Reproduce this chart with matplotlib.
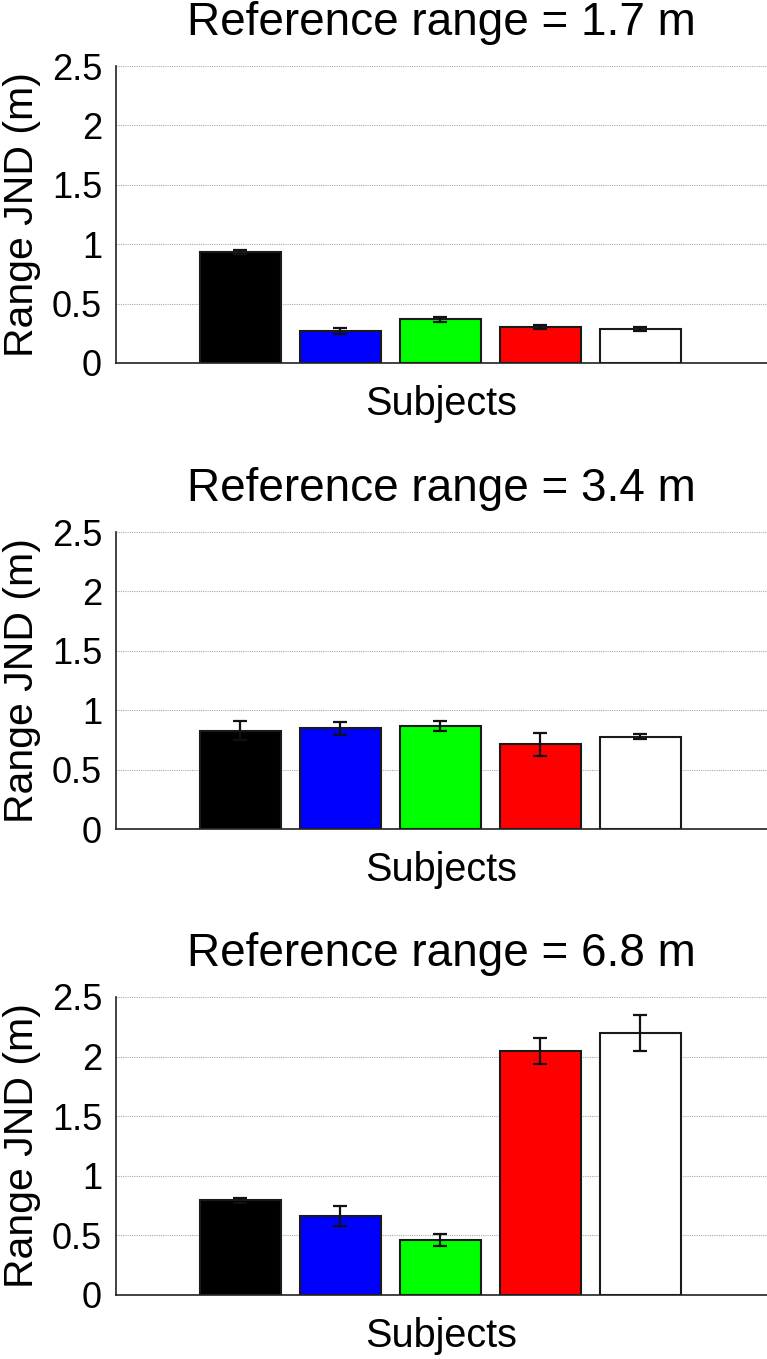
import matplotlib
matplotlib.use("Agg")
import matplotlib.pyplot as plt
import numpy as np

plt.rcParams['font.family'] = ['Liberation Sans', 'DejaVu Sans']

subjects = [1, 2, 3, 4, 5]
colors = ['#000000', '#0000ff', '#00ff00', '#ff0000', '#ffffff']
titles = ['Reference range = 1.7 m', 'Reference range = 3.4 m', 'Reference range = 6.8 m']

jnd_17 = [0.935, 0.27, 0.37, 0.303, 0.287]
err_17 = [0.017, 0.027, 0.021, 0.017, 0.015]
jnd_34 = [0.827, 0.846, 0.866, 0.712, 0.777]
err_34 = [0.078, 0.053, 0.04, 0.096, 0.021]
jnd_68 = [0.793, 0.664, 0.462, 2.048, 2.199]
err_68 = [0.022, 0.085, 0.05, 0.106, 0.153]

yticks = [0, 0.5, 1, 1.5, 2, 2.5]
ytick_labels = ['0', '0.5', '1', '1.5', '2', '2.5']

W, H = 767, 1359
fig = plt.figure(figsize=(W / 100, H / 100), dpi=100)

panels = [(66, 363, jnd_17, err_17), (532, 829, jnd_34, err_34), (997, 1295, jnd_68, err_68)]
left_px, right_px = 116, 767

for (top, bot, vals, errs), title in zip(panels, titles):
    ax = fig.add_axes([left_px / W, 1 - bot / H, (right_px - left_px) / W, (bot - top) / H])
    ax.bar(subjects, vals, width=0.81, color=colors, edgecolor='#1a1a1a', linewidth=1.5, zorder=2)
    ax.errorbar(subjects, vals, yerr=errs, fmt='none', ecolor='#111111', elinewidth=1.6,
                capsize=5, capthick=1.6, zorder=3)
    ax.set_ylim(0, 2.5)
    ax.set_xlim(1 - (240 - left_px) / 100, 1 + (right_px - 240) / 100)
    ax.set_yticks(yticks)
    ax.set_yticklabels(ytick_labels)
    ax.set_xticks([])
    ax.tick_params(axis='y', length=0, pad=10, labelsize=26)
    ax.yaxis.grid(True, linestyle=(0, (1, 1)), color='#aaaaaa', linewidth=0.8, zorder=0)
    ax.set_axisbelow(True)
    for s in ['top', 'right']:
        ax.spines[s].set_visible(False)
    for s in ['left', 'bottom']:
        ax.spines[s].set_color('#222222')
        ax.spines[s].set_linewidth(1.2)
    ax.set_title(title, fontsize=33, pad=22)
    ax.set_xlabel('Subjects', fontsize=28.5, labelpad=16)
    ax.set_ylabel('Range JND (m)', fontsize=29.5, labelpad=8)

fig.savefig('out.png', dpi=100)
